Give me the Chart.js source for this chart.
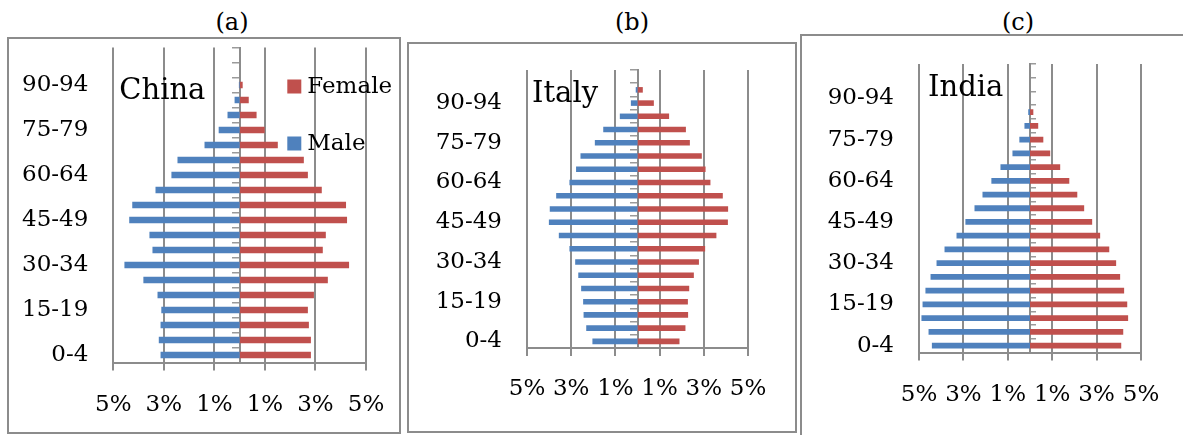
<!DOCTYPE html>
<html>
<head>
<meta charset="utf-8">
<script src="https://cdn.jsdelivr.net/npm/chart.js@4"></script>
<style>
  html, body { margin: 0; padding: 0; background: #fff; }
  body { width: 1183px; height: 435px; position: relative; overflow: hidden; }
  .title { position: absolute; top: 6px; width: 80px; text-align: center;
           font-family: "DejaVu Serif", serif; font-size: 24px; color: #000; line-height: 32px; }
  .box { position: absolute; border: 2px solid #8c8c8c; box-sizing: border-box; background: #fff; }
  .cv { position: absolute; }
</style>
</head>
<body>
<div class="title" style="left:192px;">(a)</div>
<div class="title" style="left:592px;">(b)</div>
<div class="title" style="left:978px;">(c)</div>

<div class="box" style="left:7px; top:37px; width:394px; height:397px;"></div>
<div class="box" style="left:407px; top:42px; width:390px; height:391px;"></div>
<div class="box" style="left:800px; top:34px; width:400px; height:410px;"></div>

<div class="cv" style="left:9px; top:39px; width:390px; height:393px;"><canvas id="cA"></canvas></div>
<div class="cv" style="left:409px; top:44px; width:386px; height:387px;"><canvas id="cB"></canvas></div>
<div class="cv" style="left:802px; top:36px; width:381px; height:399px;"><canvas id="cC"></canvas></div>

<script>
// ---------- data ----------
const ageGroups = ['0-4','5-9','10-14','15-19','20-24','25-29','30-34','35-39','40-44','45-49',
                   '50-54','55-59','60-64','65-69','70-74','75-79','80-84','85-89','90-94','95-99','100+'];
const seriesNames = ['Male', 'Female'];
const countryNames = ['China', 'Italy', 'India'];
const panelTitles = ['(a)', '(b)', '(c)'];
const xTickValues = [-5, -3, -1, 1, 3, 5];

// percent of population, by age group (0-4 first)
const chinaMale   = [3.13,3.20,3.13,3.10,3.25,3.81,4.56,3.45,3.57,4.37,4.25,3.33,2.70,2.46,1.39,0.83,0.48,0.20,0.03,0,0];
const chinaFemale = [2.82,2.82,2.74,2.70,2.94,3.49,4.33,3.29,3.41,4.25,4.21,3.25,2.70,2.54,1.51,0.99,0.67,0.36,0.12,0,0];
const italyMale   = [2.04,2.32,2.44,2.46,2.55,2.68,2.82,3.08,3.56,4.01,3.97,3.68,3.08,2.78,2.58,1.93,1.55,0.80,0.30,0.08,0];
const italyFemale = [1.90,2.17,2.29,2.28,2.34,2.55,2.78,3.06,3.57,4.09,4.10,3.86,3.30,3.08,2.91,2.37,2.19,1.43,0.74,0.24,0];
const indiaMale   = [4.42,4.57,4.89,4.84,4.71,4.48,4.21,3.85,3.31,2.91,2.50,2.14,1.74,1.33,0.79,0.48,0.25,0.08,0,0,0];
const indiaFemale = [4.11,4.20,4.42,4.38,4.24,4.06,3.88,3.57,3.16,2.80,2.44,2.13,1.77,1.36,0.91,0.60,0.37,0.15,0,0,0];

// ---------- styles ----------
const MALE_COLOR = '#4F81BD';
const FEMALE_COLOR = '#C0504D';
const GRID_COLOR = '#8c8c8c';
const FONT = '"DejaVu Serif", serif';

const overlayPlugin = {
  id: 'overlay',
  afterDatasetsDraw(chart, args, opts) {
    const ctx = chart.ctx, ca = chart.chartArea;
    ctx.save();
    ctx.fillStyle = '#000';
    ctx.textBaseline = 'alphabetic';
    ctx.textAlign = 'left';
    ctx.font = opts.nameSize + 'px ' + FONT;
    ctx.fillText(opts.name, ca.left + opts.nameX, ca.top + opts.nameY);
    if (opts.legend) {
      const L = opts.legend;
      const order = [1, 0]; // Female above Male
      order.forEach((di, k) => {
        const ds = chart.data.datasets[di];
        const y = ca.top + L.y + k * L.gap;
        ctx.fillStyle = ds.backgroundColor;
        ctx.fillRect(ca.left + L.x, y - L.box / 2, L.box, L.box);
        ctx.fillStyle = '#000';
        ctx.font = L.size + 'px ' + FONT;
        ctx.textBaseline = 'middle';
        ctx.fillText(ds.label, ca.left + L.x + L.box + 6, y + 1);
      });
    }
    ctx.restore();
  }
};

function makeChart(id, country, male, female, geo) {
  const zeroPad = (s) => { s.paddingTop = 0; s.paddingBottom = 0; s.paddingLeft = 0; s.paddingRight = 0; };
  return new Chart(document.getElementById(id), {
    type: 'bar',
    data: {
      labels: ageGroups,
      datasets: [
        { label: seriesNames[0], data: male.map(v => -v), backgroundColor: MALE_COLOR },
        { label: seriesNames[1], data: female, backgroundColor: FEMALE_COLOR }
      ]
    },
    options: {
      indexAxis: 'y',
      responsive: true,
      maintainAspectRatio: false,
      animation: false,
      devicePixelRatio: 1,
      datasets: { bar: { barPercentage: 0.42, categoryPercentage: 1.0 } },
      layout: { padding: geo.padding },
      plugins: {
        legend: { display: false },
        tooltip: { enabled: false },
        overlay: geo.overlay
      },
      scales: {
        x: {
          type: 'linear',
          stacked: true,
          min: -5, max: 5,
          afterBuildTicks: (s) => { s.ticks = xTickValues.map(v => ({ value: v })); },
          afterFit: (s) => { s.height = geo.xHeight; zeroPad(s); },
          grid: { color: GRID_COLOR, lineWidth: 2, drawTicks: true, tickLength: 8, tickColor: GRID_COLOR },
          border: { display: true, color: GRID_COLOR, width: 2 },
          ticks: {
            padding: geo.xPad,
            color: '#000',
            font: { family: FONT, size: 23 },
            maxRotation: 0,
            callback: (v) => Math.abs(v) + '%'
          }
        },
        y: {
          type: 'category',
          stacked: true,
          reverse: true,
          offset: true,
          position: 'left',
          afterFit: (s) => { s.width = geo.yWidth; zeroPad(s); },
          grid: { display: false, drawTicks: false },
          border: { display: false },
          ticks: {
            autoSkip: false,
            padding: 25,
            color: '#000',
            font: { family: FONT, size: 23 },
            callback: function (v, i) { return i % 3 === 0 ? this.getLabelForValue(v) : ''; }
          }
        },
        y2: {
          type: 'category',
          axis: 'y',
          reverse: true,
          offset: true,
          position: { x: 0 },
          afterFit: (s) => { zeroPad(s); },
          grid: { offset: true, drawOnChartArea: false, drawTicks: true, tickLength: geo.centerTick,
                  color: '#9a9a9a', tickColor: '#9a9a9a', lineWidth: 1.5 },
          border: { display: true, color: GRID_COLOR, width: 2 },
          ticks: { display: false }
        }
      }
    },
    plugins: [overlayPlugin]
  });
}

makeChart('cA', countryNames[0], chinaMale, chinaFemale, {
  padding: { left: 0, right: 33, top: 8.5, bottom: 9.5 },
  yWidth: 104.3, xHeight: 60, xPad: 21, centerTick: 7,
  overlay: { name: countryNames[0], nameSize: 29, nameX: 6, nameY: 51,
             legend: { x: 174, y: 39, gap: 57, box: 14, size: 23 } }
});
makeChart('cB', countryNames[1], italyMale, italyFemale, {
  padding: { left: 0, right: 47, top: 26, bottom: 13 },
  yWidth: 118, xHeight: 70, xPad: 19, centerTick: 7,
  overlay: { name: countryNames[1], nameSize: 29, nameX: 5, nameY: 32 }
});
makeChart('cC', countryNames[2], indiaMale, indiaFemale, {
  padding: { left: 0, right: 42, top: 28, bottom: 12.5 },
  yWidth: 117, xHeight: 70, xPad: 20.5, centerTick: -7,
  overlay: { name: countryNames[2], nameSize: 29, nameX: 9, nameY: 32 }
});
</script>
</body>
</html>
